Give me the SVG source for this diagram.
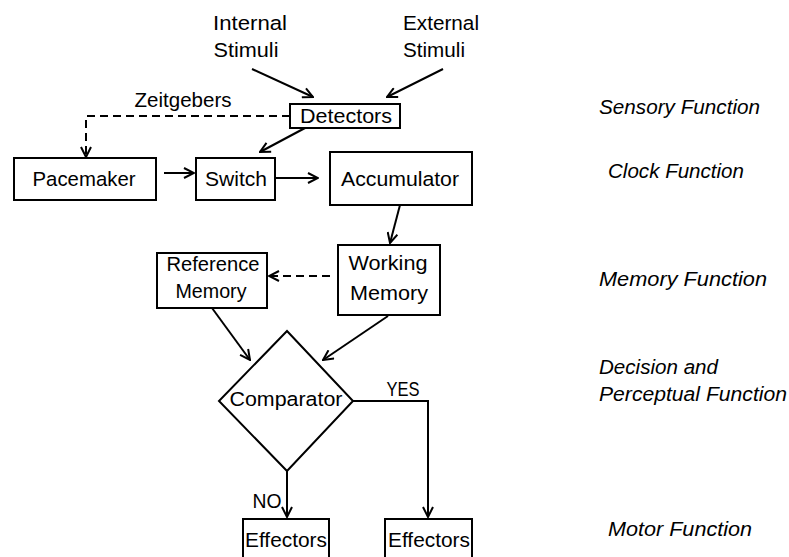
<svg xmlns="http://www.w3.org/2000/svg" width="789" height="557" viewBox="0 0 789 557">
<style>
text{font-family:"Liberation Sans",Arial,sans-serif;font-size:20.5px;fill:#000}
.c{text-anchor:middle}
.i{font-style:italic}
.box{fill:#fff;stroke:#000;stroke-width:2}
.ln{fill:none;stroke:#000;stroke-width:2}
.d{stroke-dasharray:8 5}
</style>
<defs>
<marker id="a" viewBox="0 0 12 12" refX="11" refY="6" markerWidth="12" markerHeight="12" markerUnits="userSpaceOnUse" orient="auto">
<path d="M1,1 L11,6 L1,11" fill="none" stroke="#000" stroke-width="2"/>
</marker>
</defs>
<rect width="789" height="557" fill="#fff"/>
<g id="connectors">
<line class="ln" x1="252" y1="69" x2="313" y2="97" marker-end="url(#a)"/>
<line class="ln" x1="443" y1="69" x2="387" y2="97" marker-end="url(#a)"/>
<path class="ln d" d="M290,116 H86 V157" marker-end="url(#a)"/>
<line class="ln" x1="305" y1="128" x2="260" y2="152" marker-end="url(#a)"/>
<line class="ln" x1="164" y1="173" x2="194" y2="173" marker-end="url(#a)"/>
<line class="ln" x1="275" y1="178" x2="318" y2="178" marker-end="url(#a)"/>
<line class="ln" x1="400" y1="205" x2="390" y2="243" marker-end="url(#a)"/>
<line class="ln d" x1="330" y1="276" x2="269" y2="276" marker-end="url(#a)"/>
<line class="ln" x1="212" y1="308" x2="250" y2="360" marker-end="url(#a)"/>
<line class="ln" x1="388" y1="316" x2="323" y2="360" marker-end="url(#a)"/>
<path class="ln" d="M353,401 H428 V517" marker-end="url(#a)"/>
<path class="ln" d="M287,471 V517" marker-end="url(#a)"/>
<text class="c" x="183" y="107" textLength="97" lengthAdjust="spacingAndGlyphs">Zeitgebers</text>
<text class="c" x="403" y="396" textLength="33" lengthAdjust="spacingAndGlyphs">YES</text>
<text class="c" x="267" y="508" textLength="29" lengthAdjust="spacingAndGlyphs">NO</text>
</g>
<g id="internal"><text class="c" x="250" y="30" textLength="74" lengthAdjust="spacingAndGlyphs">Internal</text><text class="c" x="246" y="57" textLength="65" lengthAdjust="spacingAndGlyphs">Stimuli</text></g>
<g id="external"><text class="c" x="441" y="30" textLength="76" lengthAdjust="spacingAndGlyphs">External</text><text class="c" x="434" y="57" textLength="62" lengthAdjust="spacingAndGlyphs">Stimuli</text></g>
<g id="detectors"><rect class="box" x="290" y="104" width="110" height="24"/><text class="c" x="346" y="123" textLength="92" lengthAdjust="spacingAndGlyphs">Detectors</text></g>
<g id="pacemaker"><rect class="box" x="14" y="158" width="142" height="42"/><text class="c" x="84" y="186" textLength="103" lengthAdjust="spacingAndGlyphs">Pacemaker</text></g>
<g id="switch"><rect class="box" x="196" y="158" width="79" height="42"/><text class="c" x="236" y="186" textLength="62" lengthAdjust="spacingAndGlyphs">Switch</text></g>
<g id="accumulator"><rect class="box" x="330" y="152" width="142" height="53"/><text class="c" x="400" y="186" textLength="118" lengthAdjust="spacingAndGlyphs">Accumulator</text></g>
<g id="working-memory"><rect class="box" x="338" y="245" width="102" height="70"/><text class="c" x="388" y="270" textLength="79" lengthAdjust="spacingAndGlyphs">Working</text><text class="c" x="389" y="300" textLength="78" lengthAdjust="spacingAndGlyphs">Memory</text></g>
<g id="reference-memory"><rect class="box" x="157" y="253" width="110" height="55"/><text class="c" x="213" y="271" textLength="93" lengthAdjust="spacingAndGlyphs">Reference</text><text class="c" x="211" y="298" textLength="71" lengthAdjust="spacingAndGlyphs">Memory</text></g>
<g id="comparator"><polygon class="box" points="287,331 353,401 287,471 219,401"/><text class="c" x="286" y="406" textLength="113" lengthAdjust="spacingAndGlyphs">Comparator</text></g>
<g id="effectors-no"><rect class="box" x="243" y="519" width="86" height="50"/><text class="c" x="286" y="547" textLength="82" lengthAdjust="spacingAndGlyphs">Effectors</text></g>
<g id="effectors-yes"><rect class="box" x="385" y="519" width="87" height="50"/><text class="c" x="429" y="547" textLength="82" lengthAdjust="spacingAndGlyphs">Effectors</text></g>
<g id="labels">
<text class="i" x="599" y="114" textLength="161" lengthAdjust="spacingAndGlyphs">Sensory Function</text>
<text class="i" x="608" y="178" textLength="136" lengthAdjust="spacingAndGlyphs">Clock Function</text>
<text class="i" x="599" y="286" textLength="168" lengthAdjust="spacingAndGlyphs">Memory Function</text>
<text class="i" x="599" y="374" textLength="119" lengthAdjust="spacingAndGlyphs">Decision and</text>
<text class="i" x="599" y="401" textLength="188" lengthAdjust="spacingAndGlyphs">Perceptual Function</text>
<text class="i" x="608" y="536" textLength="144" lengthAdjust="spacingAndGlyphs">Motor Function</text>
</g>
</svg>
